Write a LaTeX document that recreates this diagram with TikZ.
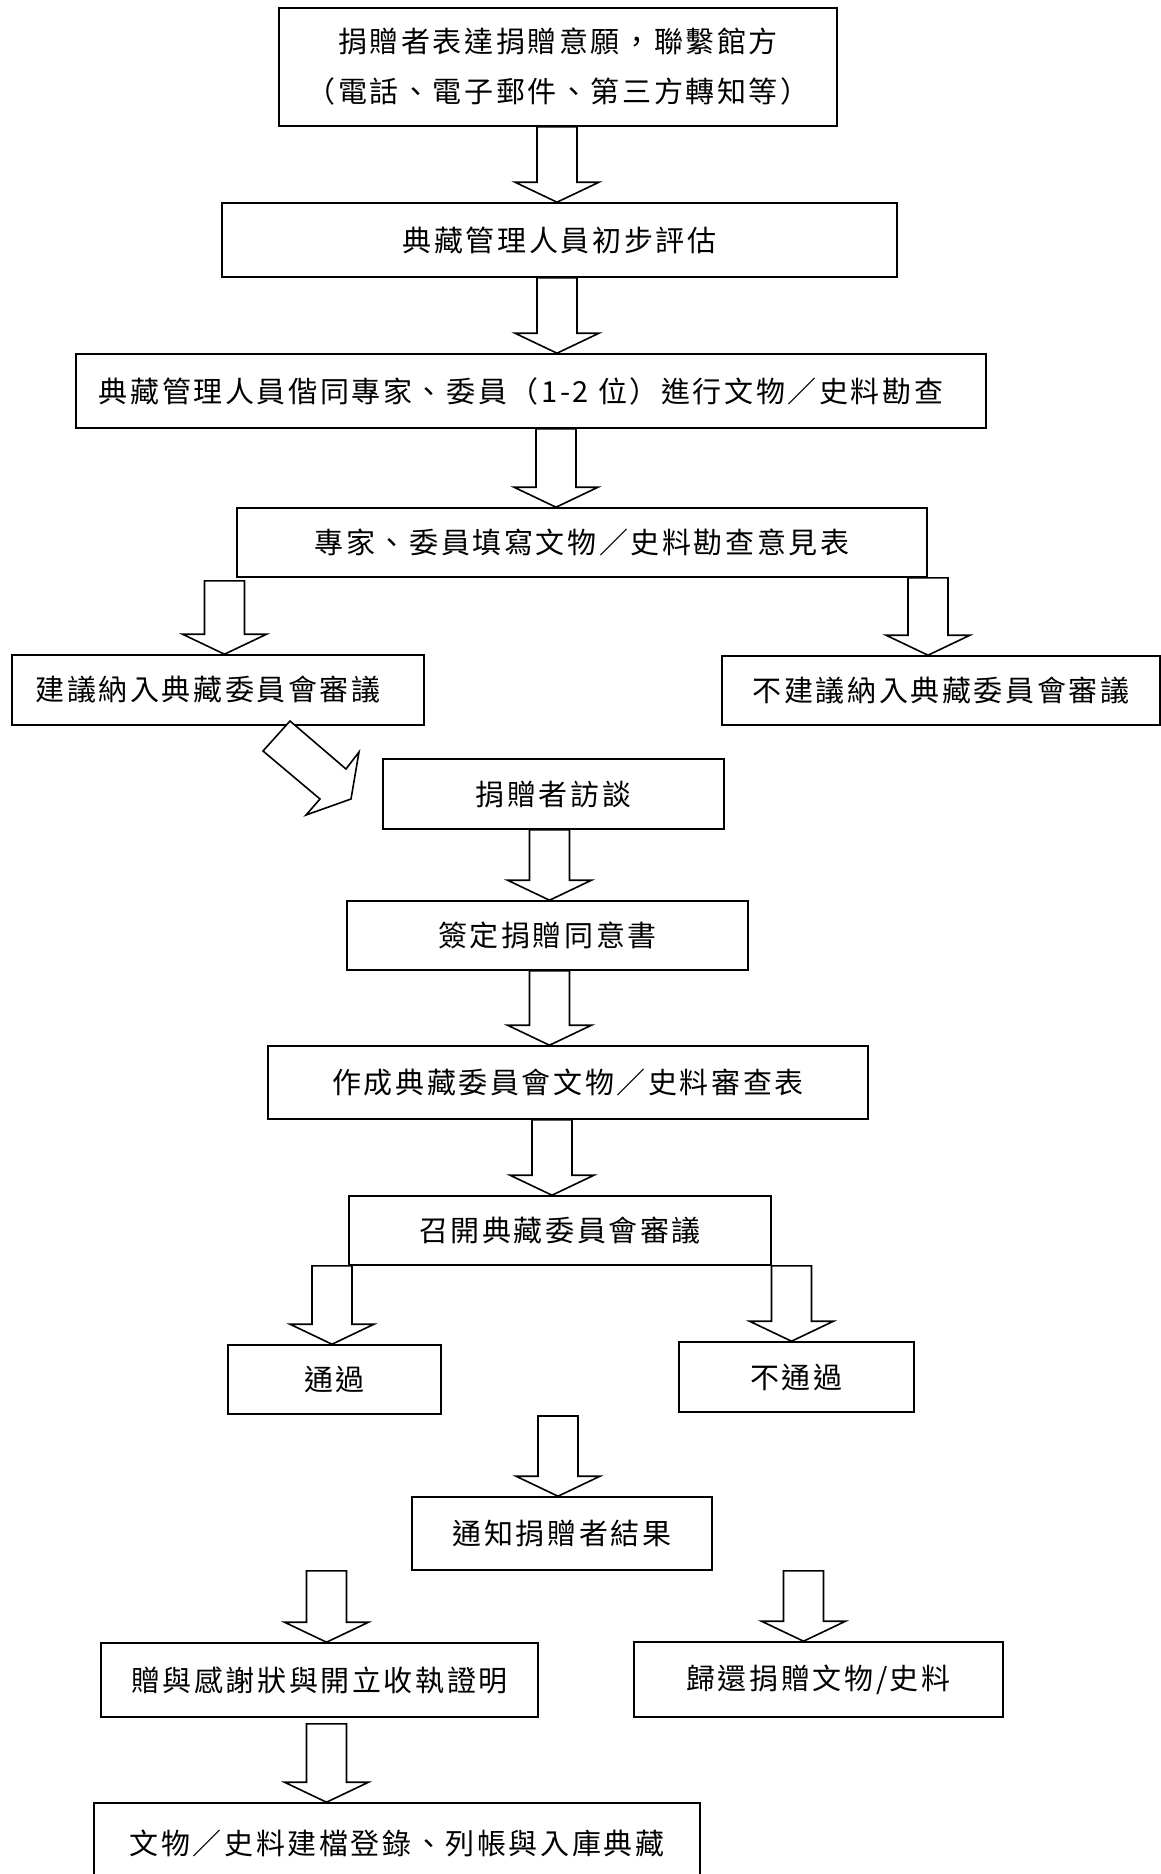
\documentclass[tikz,border=0pt]{standalone}
\usepackage{fontspec}
\newfontfamily\cjk{Noto Sans CJK TC}[LetterSpace=9]
\usetikzlibrary{calc}
\tikzset{
  box/.style={draw, line width=1.6pt, rectangle, inner sep=0pt, align=center,
    font=\cjk\fontsize{29pt}{50pt}\selectfont},
  blockarrow/.style={draw, fill=white, line width=1.6pt, line join=miter},
}
% #1 = x of arrow axis (px), #2 = top point, #3 = tip point
\newcommand\barrow[3]{%
  \draw[blockarrow] let \p1=#2, \p2=#3 in
    (#1pt-20pt,\y1) -- (#1pt-20pt,\y2+20pt) -- (#1pt-42pt,\y2+20pt) -- (#1pt,\y2)
    -- (#1pt+42pt,\y2+20pt) -- (#1pt+20pt,\y2+20pt) -- (#1pt+20pt,\y1) -- cycle;}
\begin{document}
\begin{tikzpicture}[x=1pt,y=-1pt]
\useasboundingbox (0,0) rectangle (1161,1874);
\fill[white] (0,0) rectangle (1161,1874);

\node[box, minimum width=558, minimum height=118] (b1) at (558,67)
  {捐贈者表達捐贈意願，聯繫館方\\（電話、電子郵件、第三方轉知等）};
\node[box, minimum width=675, minimum height=74] (b2) at (559.5,240) {典藏管理人員初步評估};
\node[box, minimum width=910, minimum height=74] (b3) at (531,391)
  {典藏管理人員偕同專家、委員（1-2 位）進行文物／史料勘查\hspace*{20pt}};
\node[box, minimum width=690, minimum height=69] (b4) at (582,542.5) {專家、委員填寫文物／史料勘查意見表};
\node[box, minimum width=412, minimum height=70] (b5) at (218,690) {建議納入典藏委員會審議\hspace*{20pt}};
\node[box, minimum width=438, minimum height=69] (b6) at (941,690.5) {不建議納入典藏委員會審議};
\node[box, minimum width=341, minimum height=70] (b7) at (553.5,794) {捐贈者訪談};
\node[box, minimum width=401, minimum height=69] (b8) at (547.5,935.5) {簽定捐贈同意書};
\node[box, minimum width=600, minimum height=73] (b9) at (568,1082.5) {作成典藏委員會文物／史料審查表};
\node[box, minimum width=422, minimum height=69] (b10) at (560,1230.5) {召開典藏委員會審議};
\node[box, minimum width=213, minimum height=69] (b11) at (334.5,1379.5) {通過};
\node[box, minimum width=235, minimum height=70] (b12) at (796.5,1377) {不通過};
\node[box, minimum width=300, minimum height=73] (b13) at (562,1533.5) {通知捐贈者結果};
\node[box, minimum width=437, minimum height=74] (b14) at (319.5,1680) {贈與感謝狀與開立收執證明};
\node[box, minimum width=369, minimum height=75] (b15) at (818.5,1679.5) {歸還捐贈文物/史料};
\node[box, minimum width=606, minimum height=80] (b16) at (397,1843) {文物／史料建檔登錄、列帳與入庫典藏};

\coordinate (a11top) at (558,1416);

\barrow{557}{(b1.south)}{(b2.north)}
\barrow{557}{(b2.south)}{(b3.north)}
\barrow{556}{(b3.south)}{(b4.north)}
\barrow{224.5}{([yshift=-3pt]b4.south)}{(b5.north)}
\barrow{928}{(b4.south)}{(b6.north)}
\barrow{549.5}{(b7.south)}{(b8.north)}
\barrow{549.5}{(b8.south)}{(b9.north)}
\barrow{552}{(b9.south)}{(b10.north)}
\barrow{332}{(b10.south)}{(b11.north)}
\barrow{791.5}{(b10.south)}{(b12.north)}
\barrow{558}{(a11top)}{(b13.north)}
\barrow{326.5}{(b13.south)}{(b14.north)}
\barrow{803.5}{(b13.south)}{(b15.north)}
\barrow{326.5}{([yshift=-6pt]b14.south)}{(b16.north)}

% diagonal block arrow from b5 toward b7
\draw[blockarrow] (290,721) -- (263,751) -- (320,799) -- (306,815) -- (351,799)
  -- (359,752) -- (346,769) -- cycle;
\end{tikzpicture}
\end{document}
